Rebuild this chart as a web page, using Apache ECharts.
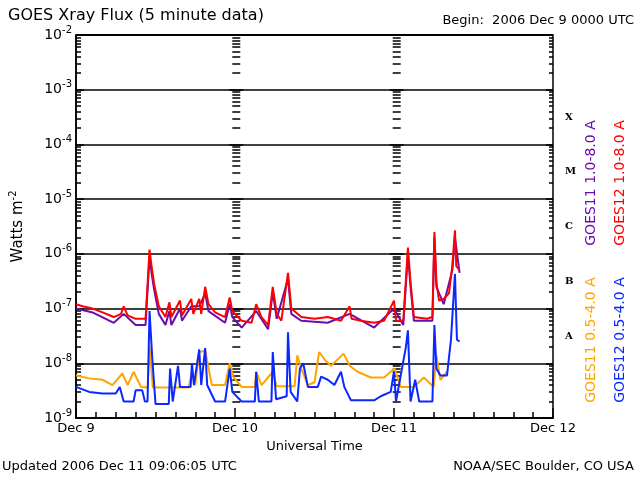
<!DOCTYPE html>
<html>
<head>
<meta charset="utf-8">
<script src="https://cdn.jsdelivr.net/npm/echarts@6/dist/echarts.min.js"></script>
<style>
  html, body { margin: 0; padding: 0; background: #fff; }
  #chart { width: 640px; height: 480px; }
</style>
</head>
<body>
<div id="chart"></div>
<script>
// hours since 2006 Dec 9 00:00 UTC, flux in W/m^2
const dayLabels = ["Dec 9", "Dec 10", "Dec 11", "Dec 12"];
const classLabels = ["", "A", "B", "C", "M", "X", ""];

const goes12Long = [
  [0,1.2e-7],[1,1.1e-7],[2.5,1e-7],[4,8.5e-8],[5.7,7e-8],[6.8,8e-8],[7.2,1.1e-7],[7.8,7.5e-8],[9,6.5e-8],[10.5,6.5e-8],
  [11.1,1.2e-6],[11.4,6e-7],[11.8,2.8e-7],[12.5,1.1e-7],[13.5,7e-8],[14.1,1.3e-7],[14.4,7e-8],[15.7,1.4e-7],[16,7.5e-8],
  [17.4,1.5e-7],[17.7,8e-8],[18.6,1.5e-7],[18.9,8e-8],[19.5,2.5e-7],[20,1.2e-7],[21,8.5e-8],[22.5,7e-8],[23.2,1.6e-7],
  [23.6,9e-8],[25,6e-8],[26.5,5.5e-8],[27.2,1.2e-7],[28,7e-8],[29,5e-8],[29.7,2.5e-7],[30.3,8e-8],[31,6e-8],[32,4.5e-7],
  [32.5,1e-7],[34,7e-8],[36,6.5e-8],[38,7e-8],[40,6e-8],[41.3,1.1e-7],[41.6,6.5e-8],[43,6e-8],[45,5.5e-8],[46.5,6e-8],
  [48,1.4e-7],[48.3,6e-8],[49.4,6e-8],[50.1,1.3e-6],[50.5,3e-7],[51,7e-8],[53,6.5e-8],[53.8,7e-8],[54.1,2.5e-6],
  [54.4,3e-7],[54.8,1.4e-7],[55.5,1.5e-7],[56.3,1.9e-7],[56.8,6e-7],[57.2,2.7e-6],[57.4,6e-7],[57.9,5e-7]
];
const goes11Long = [
  [0,1e-7],[2.5,8.5e-8],[5.7,5.5e-8],[7.2,8e-8],[9,5e-8],[10.5,5e-8],[11.1,9e-7],[11.4,4.5e-7],[11.8,2.2e-7],[12.5,8e-8],
  [13.5,5e-8],[14.1,9e-8],[14.4,5e-8],[15.7,1e-7],[16,6e-8],[17.4,1.1e-7],[18.6,1.1e-7],[19.5,1.9e-7],[20,9e-8],
  [22.5,5.5e-8],[23.2,1.2e-7],[23.6,7e-8],[25,4.5e-8],[27.2,9e-8],[29,4.2e-8],[29.7,2e-7],[30.3,6.5e-8],[32,3.5e-7],
  [32.5,8e-8],[34,6e-8],[38,5.5e-8],[41.3,8e-8],[45,4.5e-8],[48,1e-7],[49.4,5e-8],[50.1,1e-6],[50.5,2.5e-7],[51,6e-8],
  [53.8,6e-8],[54.1,2e-6],[54.4,2.5e-7],[55.5,1.2e-7],[56.8,5e-7],[57.2,2e-6],[57.9,4.5e-7]
];
const goes12Short = [
  [0,3.7e-9],[2,3e-9],[4,2.8e-9],[6,2.8e-9],[6.6,3.7e-9],[7.2,2e-9],[8.7,2e-9],[9,3.2e-9],[10,3.2e-9],[10.4,2e-9],
  [10.8,2e-9],[11.1,9e-8],[11.5,1.3e-8],[12,1.8e-9],[14,1.8e-9],[14.2,8e-9],[14.6,2e-9],[15.4,9e-9],[15.7,3.7e-9],
  [17.3,3.7e-9],[17.5,1e-8],[17.8,4e-9],[18.6,1.8e-8],[18.9,4e-9],[19.5,1.9e-8],[19.8,4e-9],[21,2e-9],[22.5,2e-9],
  [23.2,8e-9],[23.6,3e-9],[25,2e-9],[27,2e-9],[27.2,7e-9],[27.6,2e-9],[29.5,2e-9],[29.7,1.6e-8],[30.2,2.2e-9],
  [31.8,2.5e-9],[32,3.7e-8],[32.4,3e-9],[33.4,2e-9],[33.8,8e-9],[34.3,1e-8],[35,3.7e-9],[36.5,3.7e-9],[37,5.7e-9],
  [38,5e-9],[39,4e-9],[40,7e-9],[40.5,3.7e-9],[41.5,2.1e-9],[45,2.1e-9],[46,2.5e-9],[47.5,3e-9],[48,7e-9],[48.3,2e-9],
  [49.8,2e-8],[50.1,4e-8],[50.5,2e-9],[51.2,5e-9],[51.8,2e-9],[53.8,2e-9],[54.1,5e-8],[54.4,8e-9],[55,6e-9],[56,6e-9],
  [56.6,2.7e-8],[57.2,4.3e-7],[57.5,2.7e-8],[57.9,2.5e-8]
];
const goes11Short = [
  [0,6e-9],[2,5.3e-9],[4,5e-9],[5.5,4e-9],[7,6.5e-9],[7.8,4e-9],[8.7,7e-9],[9.8,3.7e-9],[10.8,3.6e-9],[11.1,2e-8],
  [11.6,3.6e-9],[14,3.6e-9],[17,3.6e-9],[17.5,7e-9],[18,4e-9],[18.6,1.6e-8],[19.5,1.7e-8],[20.5,4e-9],[22.5,4e-9],
  [23.2,1e-8],[23.8,5.5e-9],[25,3.7e-9],[27,3.7e-9],[27.2,7e-9],[28,4e-9],[29.7,7e-9],[30.3,3.8e-9],[33,3.8e-9],
  [33.4,1.4e-8],[34,8e-9],[35,4e-9],[36,4.5e-9],[36.7,1.6e-8],[37.7,1.1e-8],[38.5,9e-9],[40.4,1.5e-8],[41.3,9e-9],
  [42.5,7e-9],[44.5,5.5e-9],[46.5,5.5e-9],[48.1,8e-9],[49,3.7e-9],[51,3.7e-9],[52.5,5.5e-9],[54,3.7e-9],[54.4,1.4e-8],
  [55,5e-9],[56,7e-9]
];

const chart = echarts.init(document.getElementById("chart"));
const font = "DejaVu Sans";
const supRich = {
  b: { fontSize: 14, color: "#000", fontFamily: font },
  s: { fontSize: 10, color: "#000", fontFamily: font, padding: [0, 0, 10, 0] }
};

// extra log axes used only to draw the tick columns at each day boundary
const tickAxis = (pos, offset, inside) => ({
  type: "log", min: 1e-9, max: 1e-2, logBase: 10, position: pos, offset: offset,
  axisLine: { show: false }, axisLabel: { show: false }, splitLine: { show: false },
  axisTick: { show: true, inside: inside, length: 7, lineStyle: { color: "#000", width: 1.5 } },
  minorTick: { show: true, splitNumber: 9, length: 4, lineStyle: { color: "#000", width: 1.5 } }
});

const line = (name, data, color) => ({
  name, type: "line", data, yAxisIndex: 0, symbol: "none",
  lineStyle: { color, width: 2 }, itemStyle: { color }
});

chart.setOption({
  animation: false,
  backgroundColor: "#fff",
  grid: { left: 72, right: 87, top: 35, bottom: 62, show: true, borderColor: "#000", borderWidth: 1.5 },
  xAxis: {
    type: "value", min: 0, max: 72, interval: 24,
    name: "Universal Time", nameLocation: "middle", nameGap: 17,
    nameTextStyle: { fontFamily: font, fontSize: 13, color: "#000" },
    axisLine: { lineStyle: { color: "#000", width: 1.5 } },
    axisTick: { inside: true, length: 10, lineStyle: { color: "#000", width: 1.5 } },
    minorTick: { show: true, splitNumber: 8, length: 6, lineStyle: { color: "#000", width: 1.5 } },
    splitLine: { show: false },
    axisLabel: { formatter: v => dayLabels[v / 24], fontFamily: font, fontSize: 13, color: "#000", margin: 4 }
  },
  yAxis: [
    {
      type: "log", min: 1e-9, max: 1e-2, logBase: 10, position: "left",
      name: "{b|Watts m}{s|-2}", nameLocation: "middle", nameGap: 48, nameRotate: 90,
      nameTextStyle: { rich: { b: { fontSize: 15, fontFamily: font, color: "#000" }, s: { fontSize: 10, fontFamily: font, color: "#000", padding: [0, 0, 10, 0] } } },
      axisLine: { lineStyle: { color: "#000", width: 1.5 } },
      axisTick: { inside: true, length: 8, lineStyle: { color: "#000", width: 1.5 } },
      minorTick: { show: true, splitNumber: 9, length: 5, lineStyle: { color: "#000", width: 1.5 } },
      splitLine: { show: true, lineStyle: { color: "#000", width: 1.5 } },
      axisLabel: {
        margin: 4, rich: supRich,
        formatter: v => "{b|10}{s|" + Math.round(Math.log10(v)) + "}"
      }
    },
    {
      type: "category", data: classLabels, position: "right", boundaryGap: true,
      axisLine: { show: false }, axisTick: { show: false }, splitLine: { show: false },
      axisLabel: { fontFamily: "DejaVu Serif", fontWeight: "bold", fontSize: 10, color: "#000", margin: 12 }
    },
    tickAxis("right", 0, true),
    tickAxis("left", -160.3, true),
    tickAxis("left", -160.3, false),
    tickAxis("left", -320.7, true),
    tickAxis("left", -320.7, false)
  ],
  series: [
    line("GOES11 0.5-4.0 A", goes11Short, "#ffa500"),
    line("GOES12 0.5-4.0 A", goes12Short, "#0a28ff"),
    line("GOES11 1.0-8.0 A", goes11Long, "#6a0dad"),
    line("GOES12 1.0-8.0 A", goes12Long, "#ff0000")
  ],
  graphic: [
    { type: "text", left: 8, top: 8, style: { text: "GOES Xray Flux (5 minute data)", fontFamily: font, fontSize: 16, fill: "#000" } },
    { type: "text", right: 6, top: 14, style: { text: "Begin:  2006 Dec 9 0000 UTC", fontFamily: font, fontSize: 13, fill: "#000" } },
    { type: "text", left: 2, top: 460, style: { text: "Updated 2006 Dec 11 09:06:05 UTC", fontFamily: font, fontSize: 13, fill: "#000" } },
    { type: "text", right: 6, top: 460, style: { text: "NOAA/SEC Boulder, CO USA", fontFamily: font, fontSize: 13, fill: "#000" } },
    { type: "text", x: 591, y: 183, rotation: Math.PI / 2, style: { text: "GOES11 1.0-8.0 A", fontFamily: font, fontSize: 14, fill: "#6a0dad", align: "center", verticalAlign: "middle" } },
    { type: "text", x: 620, y: 183, rotation: Math.PI / 2, style: { text: "GOES12 1.0-8.0 A", fontFamily: font, fontSize: 14, fill: "#ff0000", align: "center", verticalAlign: "middle" } },
    { type: "text", x: 591, y: 340, rotation: Math.PI / 2, style: { text: "GOES11 0.5-4.0 A", fontFamily: font, fontSize: 14, fill: "#ffa500", align: "center", verticalAlign: "middle" } },
    { type: "text", x: 620, y: 340, rotation: Math.PI / 2, style: { text: "GOES12 0.5-4.0 A", fontFamily: font, fontSize: 14, fill: "#0a28ff", align: "center", verticalAlign: "middle" } }
  ]
});
</script>
</body>
</html>
